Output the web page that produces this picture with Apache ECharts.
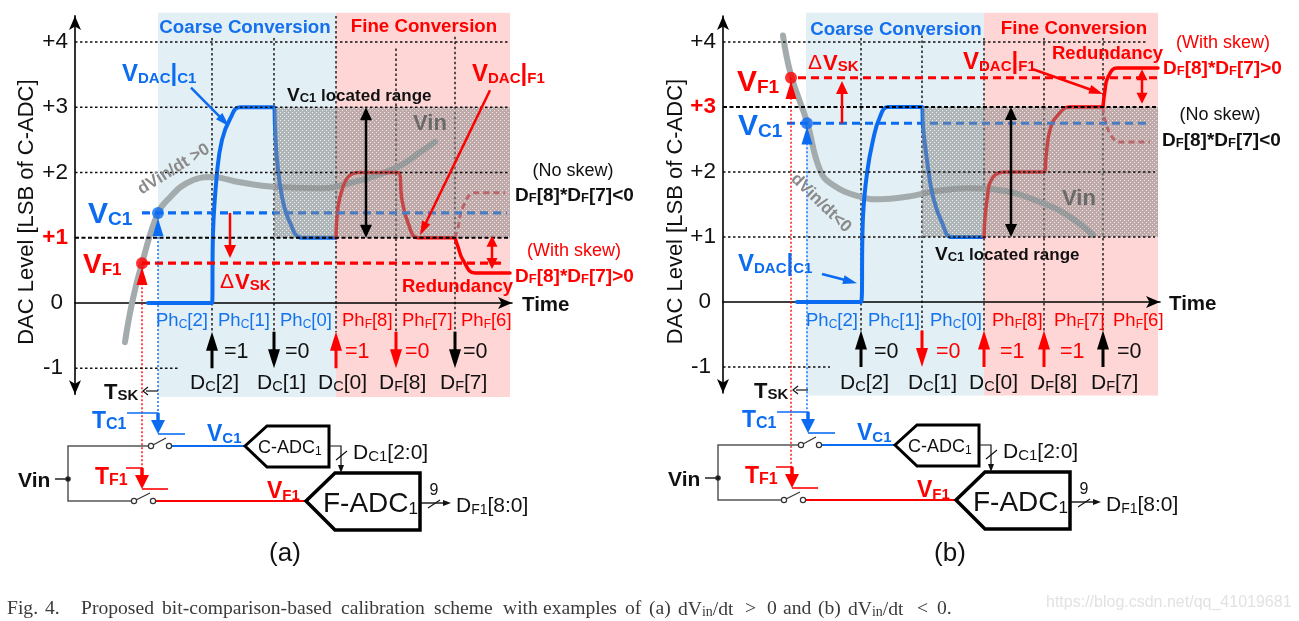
<!DOCTYPE html>
<html><head><meta charset="utf-8">
<style>html,body{margin:0;padding:0;background:#fff}#c{width:1299px;height:621px}</style>
<script src="https://cdn.jsdelivr.net/npm/echarts@6/dist/echarts.min.js"></script>
</head><body><div id="c"></div>
<script>
// ---------- data, panel (a): [time, DAC level] ----------
const vinA=[[50,-.6],[57,0],[67,.61],[83,1.38],[95,1.62],[112,1.84],[137,1.93],[165,1.85],[198,1.78],[245,1.76],[278,1.85],[322,2.08],[345,2.31],[360,2.47]];
const dacCoarseA=[[73,0],[137,0],[138,1.07],[142,1.99],[147,2.5],[155,2.82],[165,3],[199,3],[200,2.7],[202,2.2],[207,1.63],[215,1.23],[227,1],[261,1]];
const dacFineA=[[261,1],[263,1.47],[267,1.73],[273,1.93],[283,2],[323,2],[327,1.58],[333,1.23],[343,1],[380,1]];
const withSkewA=[[380,1],[383,.86],[388,.66],[400,.46],[435,.46]];
const noSkewA=[[380,1],[383,1.16],[388,1.47],[400,1.69],[430,1.69]];
const vc1LineA=[[67,1.38],[432,1.38]];
const vf1LineA=[[67,.61],[430,.61]];
const samplePointsA={c:[[83,1.38]],f:[[67,.61]]};
// ---------- data, panel (b) ----------
const vinB=[[60,4.1],[68,3.49],[84,2.77],[97,2.03],[110,1.8],[137,1.62],[157,1.58],[184,1.62],[214,1.71],[247,1.75],[277,1.72],[320,1.52],[347,1.31],[370,1.03]];
const dacCoarseB=[[74,0],[138,0],[140,1.31],[144,1.98],[150,2.49],[157,2.85],[165,3],[199,3],[200,2.7],[204,2.18],[210,1.62],[219,1.22],[229,1],[261,1]];
const dacFineB=[[261,1],[264,1.57],[270,1.92],[284,2],[321,2],[323,2.23],[327,2.65],[335,2.88],[347,3],[380,3]];
const withSkewB=[[380,3],[382,3.26],[385,3.46],[394,3.6],[435,3.6]];
const noSkewB=[[380,3],[382,2.8],[389,2.54],[397,2.46],[427,2.46]];
const vc1LineB=[[64,2.75],[427,2.75]];
const vf1LineB=[[75,3.45],[435,3.45]];
const samplePointsB={c:[[84,2.75]],f:[[68,3.45]]};
// ---------- phases and levels ----------
const tickLabels=[-1,0,1,2,3,4];
const phLabels=['[2]','[1]','[0]','[8]','[7]','[6]'];
const bitLabels=['[2]','[1]','[0]','[8]','[7]'];
const bitsA=['=1','=0','=1','=0','=0'];
const bitsB=['=0','=0','=1','=1','=0'];
// level guide rows: [t0,level,t1,level]
const guidesA=[[0,4,435,4],[0,3,435,3],[0,2,435,2],[0,-1,105,-1]];
const boldGuideA=[[0,1,435,1]];
const guidesB=[[0,4,424,4],[0,2,432,2],[0,1,432,1],[0,-1,107,-1]];
const boldGuideB=[[0,3,435,3]];
const vGuidesA=[[137,4.06,137,-.45],[199,4.06,199,-.45],[261,4.4,261,-.45],[321,3.9,321,-.45],[380,4.08,380,-.45]];
const vGuidesB=[[138,4.06,138,-.45],[199,4.1,199,-.45],[261,4.06,261,-.45],[321,4.06,321,-.45],[380,4.06,380,-.45]];
const dropsA={c:[[83,1.38],[83,-1.68]],f:[[67,.61],[67,-2.6]]};
const dropsB={c:[[84,2.75],[84,-1.68]],f:[[68,3.45],[68,-2.6]]};
const rangesBlue=[[83,-1.44,261,4.45]];
const rangesRed=[[261,-1.44,435,4.45]];
const locatedRange=[[199,1,435,3]];
// arrows: [t0,level0,t1,level1]
const arrowSets={
 a:{phaseK:[[137,-1,137,-.44],[199,-.44,199,-1],[380,-.44,380,-1]],phaseR:[[261,-1,261,-.44],[321,-.44,321,-1]],
    skewR:[[155,1.38,155,.69]],ptrB:[[116,3.3,154,2.71]],ptrR:[[415,3.26,345,1.04]],dblK:[[291,3,291,1]],dblR:[[417,1.03,417,.52]],
    triB:[[83,1,83,1.3]],triR:[[67,.3,67,.55]]},
 b:{phaseK:[[138,-1,138,-.44],[380,-1,380,-.44]],phaseR:[[199,-.44,199,-1],[261,-1,261,-.44],[321,-1,321,-.44]],
    skewR:[[119,2.75,119,3.4]],ptrB:[[99,.43,134,.29]],ptrR:[[310,3.58,380,3.2]],dblK:[[288,3,288,1]],dblR:[[419,3.05,419,3.58]],
    triB:[[84,2.35,84,2.7]],triR:[[68,3.05,68,3.4]]}
};
const captionWords=[['Fig.',7],['4.',45],['Proposed',81],['bit-comparison-based',162],['calibration',341],['scheme',434],['with',503],['examples',543],['of',625],['(a)',649],['>',745],['0',767],['and',783],['(b)',818],['<',917],['0.',937]];
const captionDv=[678,848];

// ---------- style ----------
const BLUE='#0b6cf2',RED='#ff0000',GREY='#a4abad',SANS='"Liberation Sans",Arial,sans-serif',SERIF='"Liberation Serif",serif';
function stipple(){const c=document.createElement('canvas');c.width=c.height=4;const x=c.getContext('2d');
 x.fillStyle='rgba(135,135,135,.55)';x.fillRect(0,0,4,4);x.clearRect(0,0,1,1);x.clearRect(2,2,1,1);x.fillStyle='rgba(255,255,255,.2)';x.fillRect(0,0,1,1);x.fillRect(2,2,1,1);return c;}
const pat={image:stipple(),repeat:'repeat'};

function rectSeries(g,rows,fill,z){return {type:'custom',xAxisIndex:g,yAxisIndex:g,z,silent:true,data:rows,encode:{x:[0,2],y:[1,3]},
 renderItem:(p,api)=>{const a=api.coord([api.value(0),api.value(3)]),b=api.coord([api.value(2),api.value(1)]);
  return {type:'rect',shape:{x:a[0],y:a[1],width:b[0]-a[0],height:b[1]-a[1]},style:{fill}};}};}
function segSeries(g,rows,color,w,dash,z){return {type:'custom',xAxisIndex:g,yAxisIndex:g,z,silent:true,data:rows,encode:{x:[0,2],y:[1,3]},
 renderItem:(p,api)=>{const a=api.coord([api.value(0),api.value(1)]),b=api.coord([api.value(2),api.value(3)]);
  return {type:'line',shape:{x1:a[0],y1:a[1],x2:b[0],y2:b[1]},style:{stroke:color,lineWidth:w,lineDash:dash,fill:null}};}};}
function head(tip,ux,uy,hw,hl,color){return {type:'polygon',shape:{points:[tip,[tip[0]-ux*hl-uy*hw/2,tip[1]-uy*hl+ux*hw/2],[tip[0]-ux*hl+uy*hw/2,tip[1]-uy*hl-ux*hw/2]]},style:{fill:color}};}
function arrowSeries(g,rows,color,w,hw,hl,both){return {type:'custom',xAxisIndex:g,yAxisIndex:g,z:7,silent:true,data:rows,encode:{x:[0,2],y:[1,3]},
 renderItem:(p,api)=>{const a=api.coord([api.value(0),api.value(1)]),b=api.coord([api.value(2),api.value(3)]);
  const L=Math.hypot(b[0]-a[0],b[1]-a[1]),ux=(b[0]-a[0])/L,uy=(b[1]-a[1])/L,kids=[];
  if(w>0)kids.push({type:'line',shape:{x1:a[0]+(both?ux*hl*.8:0),y1:a[1]+(both?uy*hl*.8:0),x2:b[0]-ux*hl*.8,y2:b[1]-uy*hl*.8},style:{stroke:color,lineWidth:w,fill:null}});
  kids.push(head(b,ux,uy,hw,hl,color));
  if(both)kids.push(head(a,-ux,-uy,hw,hl,color));
  return {type:'group',children:kids};}};}
function lineS(g,data,color,w,o){return Object.assign({type:'line',xAxisIndex:g,yAxisIndex:g,data,showSymbol:false,silent:true,clip:false,z:3,
 lineStyle:{color,width:w,cap:'round',join:'round'}},o||{});}
function curve(g,data,color,w,o){return lineS(g,data,color,w,Object.assign({smooth:.45},o||{}));}
function dashL(g,data,color,w,dash){const s=lineS(g,data,color,w);s.lineStyle.type=dash;s.lineStyle.cap='butt';return s;}
function points(g,data,color){return {type:'scatter',xAxisIndex:g,yAxisIndex:g,data,symbol:'circle',symbolSize:12,silent:true,z:8,clip:false,itemStyle:{color}};}

function panelSeries(g,d){
 const s=[rectSeries(g,rangesBlue,'#e2eff4',1),rectSeries(g,rangesRed,'#ffd6d6',1),
  segSeries(g,d.guides,'#111',1.4,[2.5,2.5],5),segSeries(g,d.bold,'#000',2,[4,2.5],5),segSeries(g,d.vg,'#111',1.4,[2.5,2.5],2),
  curve(g,d.vin,GREY,6),curve(g,d.coarse,BLUE,4),curve(g,d.fine,RED,3.5),
  curve(g,d.skew,RED,3.5),
  curve(g,d.noskew,'#e8404a',3,{lineStyle:{color:'#e8404a',width:3,type:[6,4]}}),
  dashL(g,d.vc,BLUE,3.2,[8,5]),dashL(g,d.vf,RED,3.2,[8,5]),
  dashL(g,d.drops.c,BLUE,1.4,[2,2]),dashL(g,d.drops.f,RED,1.4,[2,2]),
  rectSeries(g,locatedRange,pat,4),
  points(g,d.pts.c,BLUE),points(g,d.pts.f,RED)];
 const A=d.arr;
 s.push(arrowSeries(g,A.phaseK,'#000',3,12,19),arrowSeries(g,A.phaseR,RED,3,12,19),arrowSeries(g,A.skewR,RED,2.5,12,13),
  arrowSeries(g,A.ptrB,BLUE,2.5,9,14),arrowSeries(g,A.ptrR,RED,2.5,9,14),arrowSeries(g,A.dblK,'#000',2.5,12,13,true),arrowSeries(g,A.dblR,RED,2.5,11,11,true),
  arrowSeries(g,A.triB,BLUE,0,11,18),arrowSeries(g,A.triR,RED,0,11,18));
 return s;
}
function xA(g){return {type:'value',gridIndex:g,min:0,max:437,z:3,axisLabel:{show:false},axisTick:{show:false},splitLine:{show:false},
 axisLine:{onZero:true,lineStyle:{color:'#000',width:1.6},symbol:['none','arrow'],symbolSize:[9,14]}};}
function yA(g,redV,gap){return {type:'value',gridIndex:g,min:-1.4,max:4.4,z:3,name:'DAC Level [LSB of C-ADC]',nameLocation:'middle',nameGap:gap,nameRotate:90,
 nameTextStyle:{fontFamily:SANS,fontSize:22,color:'#111',padding:[0,14,0,0]},axisTick:{show:false},splitLine:{show:false},
 axisLine:{onZero:false,lineStyle:{color:'#000',width:1.6},symbol:['arrow','arrow'],symbolSize:[9,14]},
 axisLabel:{customValues:tickLabels,margin:7,fontFamily:SANS,fontSize:22.5,color:'#111',
  formatter:v=>{const t=v>0?'+'+v:String(v);if(v===redV)return '{r|'+t+'}';if(v===0)return '{z|0}';if(v===-1)return '{m|-1}';return t;},
  rich:{r:{color:RED,fontWeight:'bold',fontSize:22.5,fontFamily:SANS},z:{color:'#111',fontSize:22.5,fontFamily:SANS,padding:[0,5,0,0]},m:{color:'#111',fontSize:22.5,fontFamily:SANS,padding:[0,5,0,0]}}}};}

// ---------- annotation text ----------
let rn=0;
function txt(x,y,runs,color,o){o=o||{};const rich={};let s='';
 runs.forEach(r=>{const k='k'+(rn++);rich[k]={fontSize:r[1],fontWeight:r[2]||o.weight||'normal',fontFamily:o.family||SANS,fill:r[3]||color,verticalAlign:'bottom',lineHeight:o.lh||Math.round(Math.max(...runs.map(q=>q[1]))*1.15)};s+='{'+k+'|'+r[0]+'}';});
 return {type:'text',x,y,z:20,zlevel:0,silent:true,rotation:o.rot||0,style:{text:s,rich,align:o.align||'left',verticalAlign:'middle'}};}
function bold(x,y,runs,color,o){return txt(x,y,runs,color,Object.assign({weight:'bold'},o||{}));}

function poly(points,stroke,w){return {type:'polyline',z:15,silent:true,shape:{points},style:{stroke,lineWidth:w,fill:null,lineJoin:'miter'}};}
function polygon(points,stroke,w){return {type:'polygon',z:15,silent:true,shape:{points},style:{stroke,lineWidth:w,fill:'#fff',lineJoin:'miter'}};}
function tri(points,fill){return {type:'polygon',z:15,silent:true,shape:{points},style:{fill}};}
function ring(cx,cy,r,fill){return {type:'circle',z:16,silent:true,shape:{cx,cy,r},style:{fill:fill||'#fff',stroke:'#333',lineWidth:1.2}};}

function circuit(dx,dy){const X=x=>x+dx,Y=y=>y+dy,P=(a)=>a.map(p=>[X(p[0]),Y(p[1])]),e=[];
 e.push(poly(P([[148,446],[68,446],[68,501],[132,501]]),'#555',1.5));
 e.push(poly(P([[55,479],[68,479]]),'#222',1.5),ring(X(68),Y(479),2.2,'#111'));
 e.push(poly(P([[172,446],[245,446]]),BLUE,2),poly(P([[155,501],[306,501]]),RED,2));
 e.push(ring(X(151),Y(446),2.6),ring(X(169),Y(446),2.6),ring(X(134),Y(501),2.6),ring(X(153),Y(501),2.6));
 e.push(poly(P([[153,445],[166,438]]),'#333',1.2),poly(P([[136,500],[150,493]]),'#333',1.2));
 e.push(polygon(P([[245,446],[267,426],[329,426],[329,467],[267,467]]),'#000',3));
 e.push(polygon(P([[306,501],[335,473],[420,473],[420,530],[335,530]]),'#000',3.5));
 e.push(poly(P([[329,446],[341,446],[341,468]]),'#111',1.2),tri(P([[341,473],[338,465],[344,465]]),'#111'),poly(P([[336,460],[347,451]]),'#111',1.2));
 e.push(poly(P([[420,503],[445,503]]),'#111',1.4),tri(P([[451,503],[443,500],[443,506]]),'#111'),poly(P([[428,508],[440,500]]),'#111',1.2));
 e.push(poly(P([[127,413],[158,413],[158,422]]),BLUE,1.6),poly(P([[158,434],[185,434]]),BLUE,1.6),poly(P([[158,413],[158,424]]),BLUE,3.5),tri(P([[158,434],[151,420],[165,420]]),BLUE));
 e.push(poly(P([[126,468],[142,468],[142,478]]),RED,1.6),poly(P([[142,489],[168,489]]),RED,1.6),poly(P([[142,468],[142,479]]),RED,3.5),tri(P([[142,489],[135,475],[149,475]]),RED));
 e.push(poly(P([[158,391],[146,391]]),'#111',1.2),poly(P([[148,387],[143,391],[148,395]]),'#111',1.2));
 e.push(bold(X(104),Y(391),[['T',22],['SK',15]],'#111'));
 e.push(bold(X(92),Y(420),[['T',23],['C1',16]],BLUE),bold(X(95),Y(476),[['T',23],['F1',16]],RED));
 e.push(bold(X(18),Y(480),[['Vin',21]],'#111'));
 e.push(bold(X(207),Y(433),[['V',23],['C1',15]],BLUE),bold(X(267),Y(490),[['V',23],['F1',15]],RED));
 e.push(txt(X(258),Y(447),[['C-ADC',18],['1',12]],'#111'));
 e.push(txt(X(323),Y(502),[['F-ADC',28],['1',17]],'#111'));
 e.push(txt(X(353),Y(452),[['D',21],['C1',15],['[2:0]',21]],'#111'));
 e.push(txt(X(456),Y(505),[['D',21],['F1',14],['[8:0]',21]],'#111'));
 e.push(txt(X(434),Y(490),[['9',16]],'#111',{align:'center'}));
 return e;}
function phases(xs){return xs.map((x,i)=>txt(x,320,[['Ph',18.5],[i<3?'C':'F',12],[phLabels[i],18.5]],i<3?'#1673ee':RED));}
function bits(xs,vals,cols){return xs.map((x,i)=>txt(x,351,[[vals[i],21.5]],cols[i]));}
function dlabels(xs){return xs.map((x,i)=>txt(x,382,[['D',21],[i<3?'C':'F',14.5],[bitLabels[i],21]],'#111'));}
const dfRuns=c=>[['D',19],['F',13],['[8]*D',19],['F',13],['[7]'+c,19]];
const capOpt={family:SERIF};

const elems=[].concat(
 circuit(0,0),circuit(650,-1),
 // panel a
 bold(245,26,[['Coarse Conversion',18.7]],'#1470ee',{align:'center'}),bold(424,25,[['Fine Conversion',18.7]],RED,{align:'center'}),
 bold(122,72,[['V',24],['DAC',15],['|',24],['C1',15]],BLUE),
 bold(88,212,[['V',30],['C1',19]],BLUE),bold(83,263,[['V',28],['F1',17]],RED),
 [txt(220,281,[['Δ',21]],RED),bold(235,281,[['V',22],['SK',15]],RED)],
 bold(287,94,[['V',19],['C1',13],[' located range',17]],'#111'),
 bold(430,122,[['Vin',22]],'#6a6a6a',{align:'center'}),
 bold(173,168,[['dVin/dt >0',17]],'#8a8a8a',{align:'center',rot:.56}),
 bold(472,72,[['V',24],['DAC',15],['|',24],['F1',15]],RED),
 txt(573,170,[['(No skew)',18]],'#111',{align:'center'}),bold(515,194,dfRuns('<0'),'#111'),
 txt(574,250,[['(With skew)',18]],RED,{align:'center'}),bold(515,275,dfRuns('>0'),RED),
 bold(402,286,[['Redundancy',18.5]],RED),bold(522,304,[['Time',20.5]],'#111'),
 phases([156,218,280,342,402,461]),
 bits([224,285,345,405,463],bitsA,['#111','#111',RED,RED,'#111']),
 dlabels([190,257,318,379,440]),
 txt(285,552,[['(a)',26]],'#111',{align:'center'}),
 // panel b
 bold(896,28,[['Coarse Conversion',18.7]],'#1470ee',{align:'center'}),bold(1074,27,[['Fine Conversion',18.7]],RED,{align:'center'}),
 [txt(808,62,[['Δ',21]],RED),bold(823,62,[['V',22],['SK',15]],RED)],
 bold(737,80,[['V',30],['F1',19]],RED),bold(738,124,[['V',30],['C1',19]],BLUE),
 bold(738,262,[['V',24],['DAC',15],['|',24],['C1',15]],BLUE),
 bold(822,202,[['dVin/dt<0',17]],'#8a8a8a',{align:'center',rot:-.77}),
 bold(963,60,[['V',24],['DAC',15],['|',24],['F1',15]],RED),
 bold(1052,53,[['Redundancy',18.5]],RED),
 txt(1223,42,[['(With skew)',18]],RED,{align:'center'}),bold(1163,67,dfRuns('>0'),RED),
 txt(1220,114,[['(No skew)',18]],'#111',{align:'center'}),bold(1162,139,dfRuns('<0'),'#111'),
 bold(1079,197,[['Vin',22]],'#6a6a6a',{align:'center'}),
 bold(935,253,[['V',19],['C1',13],[' located range',17]],'#111'),
 bold(1169,303,[['Time',20.5]],'#111'),
 phases([806,868,930,992,1054,1113]),
 bits([874,936,1000,1060,1117],bitsB,['#111',RED,RED,RED,'#111']),
 dlabels([840,908,969,1030,1091]),
 txt(950,552,[['(b)',26]],'#111',{align:'center'}),
 // caption
 captionWords.map(w=>txt(w[1],607,[[w[0],19.6]],'#3a3a3a',capOpt)),
 captionDv.map(x=>txt(x,608,[['dV',19.6],['in',14],['/dt',19.6]],'#3a3a3a',capOpt)),
 txt(1046,602,[['https://blog.csdn.net/qq_41019681',16]],'#e2e2e2')
);

const chart=echarts.init(document.getElementById('c'),null,{renderer:'canvas'});
chart.setOption({animation:false,backgroundColor:'#fff',
 grid:[{left:75,width:437,top:303-4.4*65.25,height:5.8*65.25},{left:723,width:437,top:302-4.4*65,height:5.8*65}],
 xAxis:[xA(0),xA(1)],yAxis:[yA(0,1,37),yA(1,3,34)],
 series:[].concat(
  panelSeries(0,{guides:guidesA,bold:boldGuideA,vg:vGuidesA,vin:vinA,coarse:dacCoarseA,fine:dacFineA,skew:withSkewA,noskew:noSkewA,vc:vc1LineA,vf:vf1LineA,drops:dropsA,pts:samplePointsA,arr:arrowSets.a}),
  panelSeries(1,{guides:guidesB,bold:boldGuideB,vg:vGuidesB,vin:vinB,coarse:dacCoarseB,fine:dacFineB,skew:withSkewB,noskew:noSkewB,vc:vc1LineB,vf:vf1LineB,drops:dropsB,pts:samplePointsB,arr:arrowSets.b})),
 graphic:{elements:elems}
});
</script></body></html>
